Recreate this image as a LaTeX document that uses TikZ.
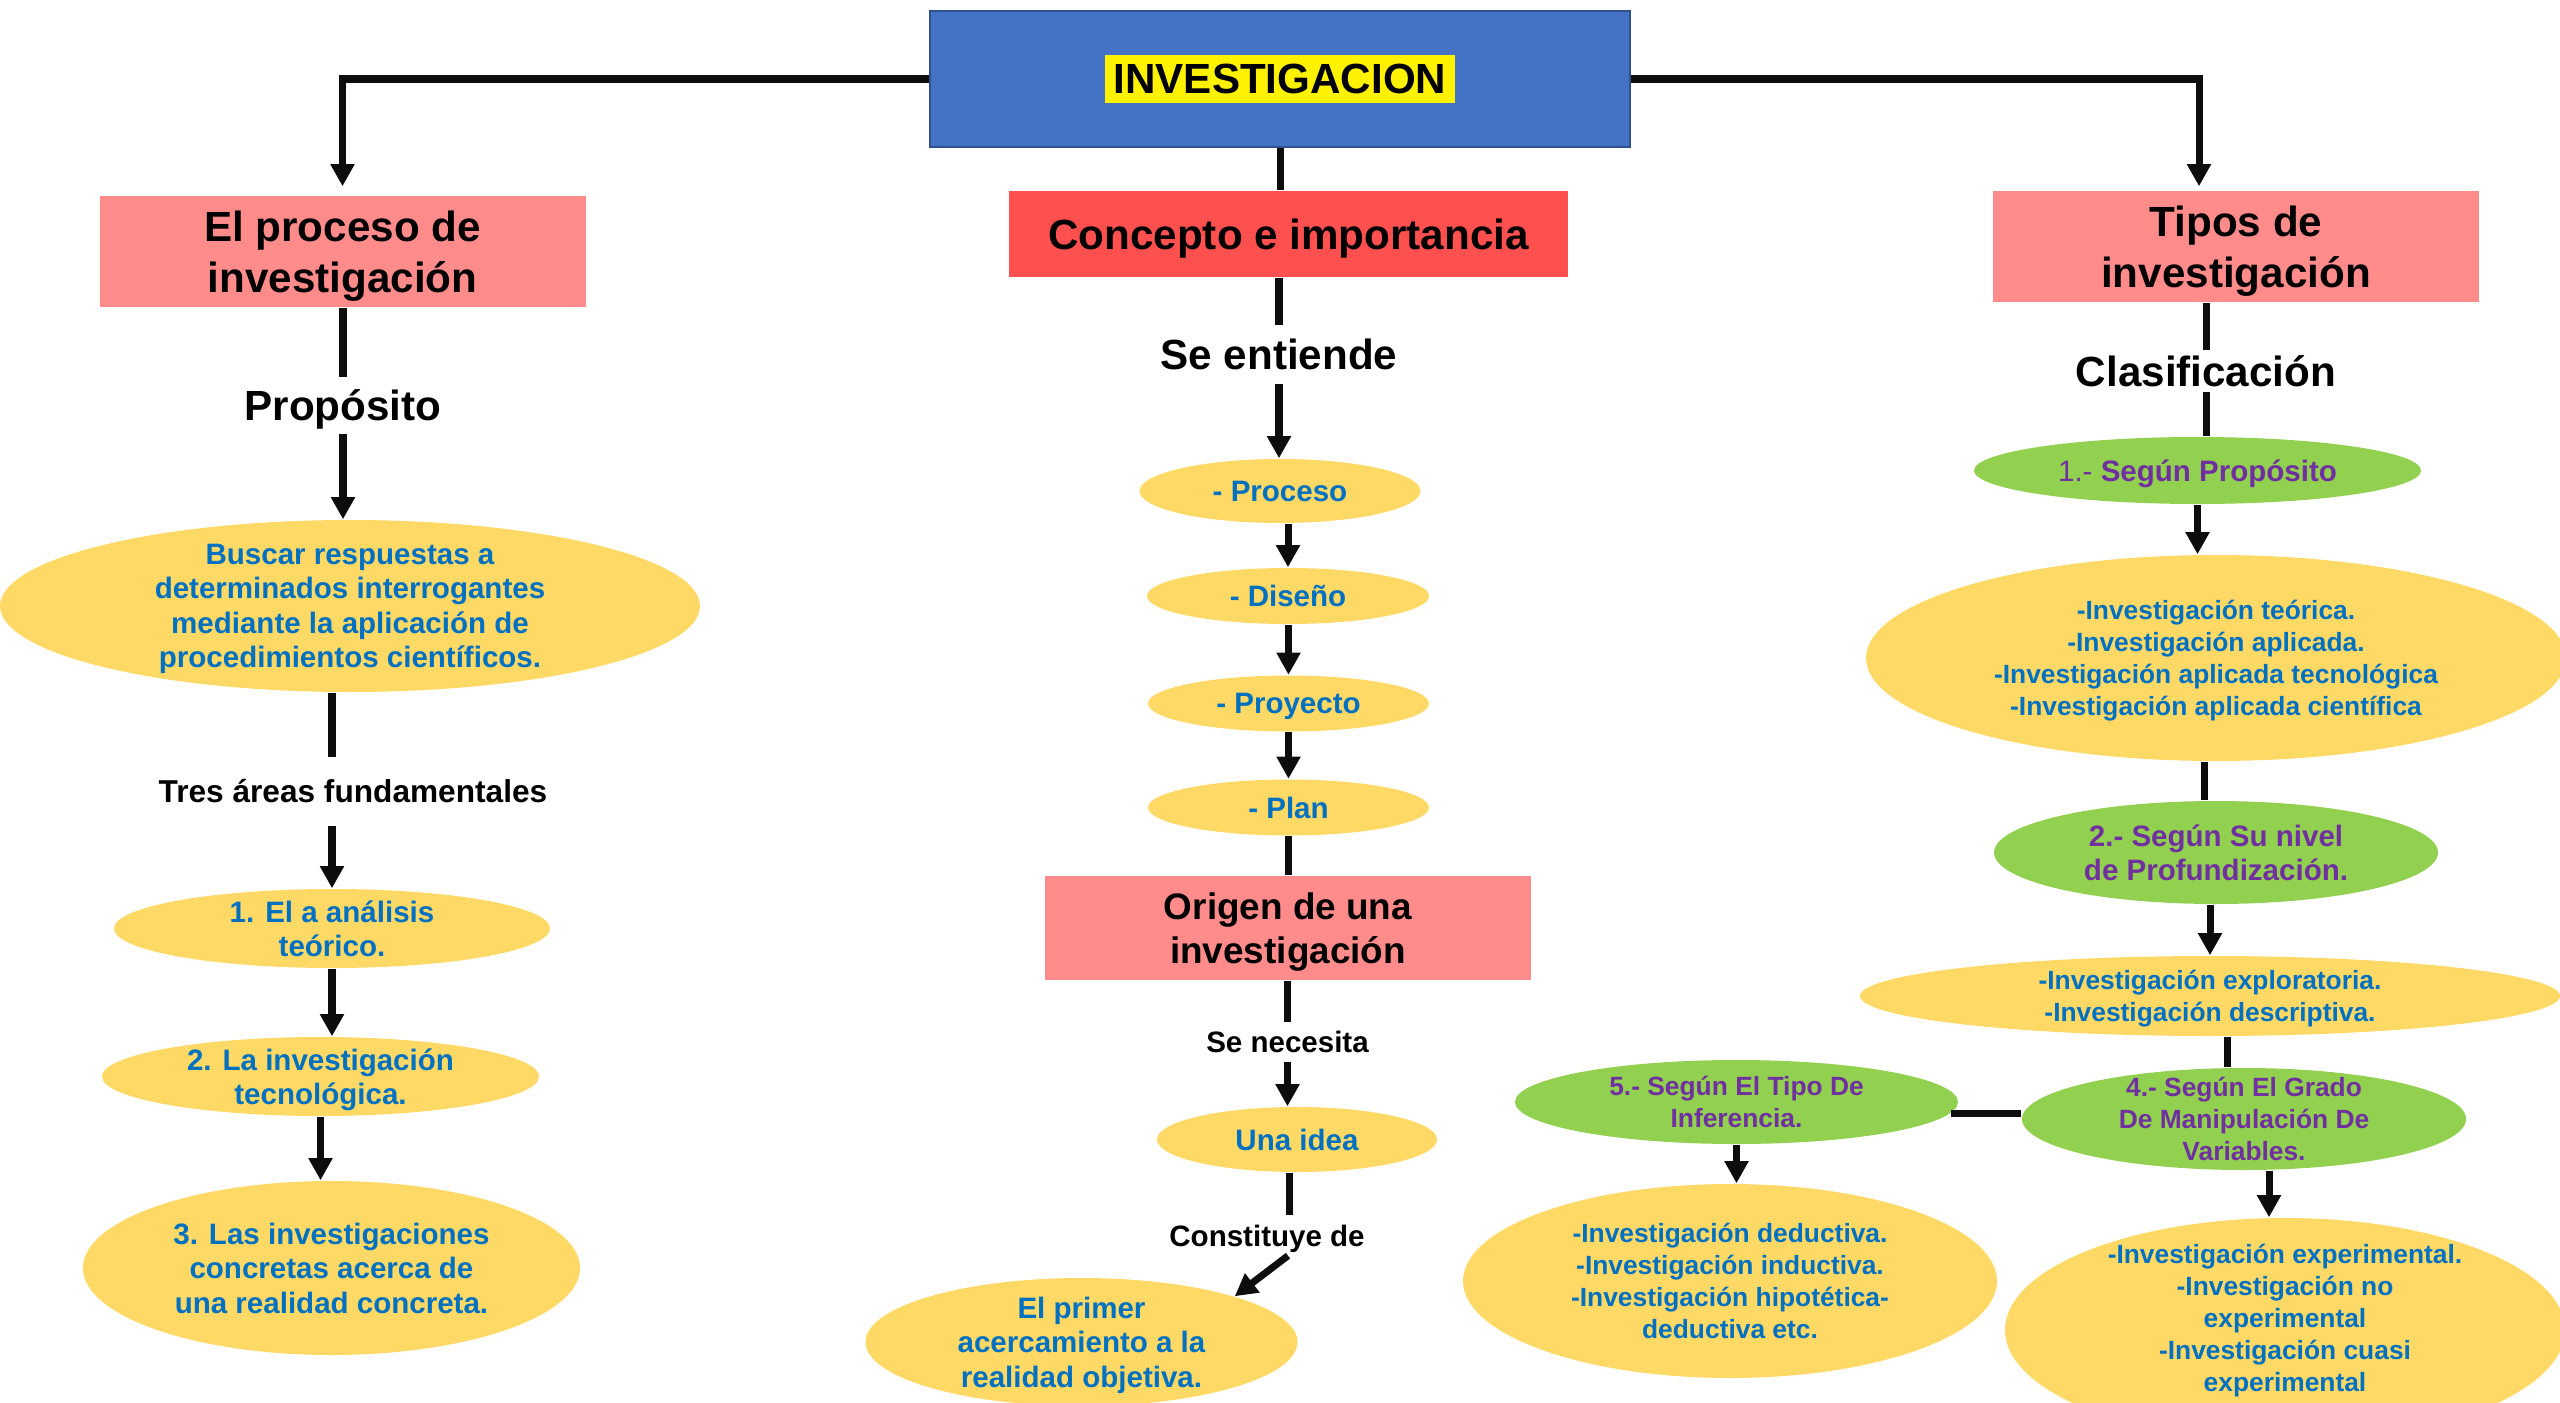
\documentclass[tikz,border=0pt]{standalone}
\usepackage{fontspec}
\setmainfont{Liberation Sans}
\usetikzlibrary{shapes.geometric,arrows.meta}

\definecolor{azulcaja}{HTML}{4472C4}
\definecolor{bordeazul}{HTML}{2F528F}
\definecolor{rosa}{HTML}{FF8B8B}
\definecolor{rojo}{HTML}{FF5050}
\definecolor{oro}{HTML}{FFD966}
\definecolor{verde}{HTML}{92D050}
\definecolor{morado}{HTML}{7030A0}
\definecolor{azultxt}{HTML}{0070C0}
\definecolor{negro}{HTML}{0D0D0D}
\setlength{\fboxsep}{2.5pt}

\begin{document}
\begin{tikzpicture}[
    linea/.style={line width=2pt, draw=negro},
    flecha/.style={linea, -{Triangle[length=6.3pt, width=6.5pt]}},
    caja/.style={rectangle, fill=rosa, inner sep=0pt, align=center, text depth=0pt,
        minimum width=4.86cm, minimum height=1.11cm,
        font=\fontsize{12}{14.4}\selectfont\bfseries},
    ovalo/.style={ellipse, fill=oro, inner sep=-0.6cm, align=center, text=azultxt, text depth=0pt,
        font=\fontsize{8.4}{9.8}\selectfont\bfseries},
    ovalo verde/.style={ovalo, fill=verde, text=morado},
    chico/.style={font=\fontsize{7.5}{9.1}\selectfont\bfseries},
    rotulo/.style={inner xsep=0pt, inner ysep=0.13cm, text height=0.30cm, text depth=0pt,
        font=\fontsize{12}{14}\selectfont\bfseries},
    rotulo chico/.style={rotulo, text height=0.21cm, font=\fontsize{8.4}{10}\selectfont\bfseries}
]
    \useasboundingbox (0,0) rectangle (25.6,-14.03);
    \clip (0,0) rectangle (25.6,-14.03);

    % Nodo central
    \node[rectangle, fill=azulcaja, draw=bordeazul, line width=0.6pt, minimum width=7cm,
        minimum height=1.36cm, font=\fontsize{12}{14}\selectfont\bfseries]
        (inv) at (12.80,-0.79) {\colorbox{yellow}{INVESTIGACION}};

    % Columna izquierda
    \node[caja] (proceso) at (3.425,-2.515) {El proceso de\\investigación};
    \node[rotulo] (prop) at (3.43,-4.057) {Propósito};
    \node[ovalo, minimum width=7cm, minimum height=1.72cm] (buscar) at (3.50,-6.06)
        {Buscar respuestas a\\determinados interrogantes\\mediante la aplicación de\\procedimientos científicos.};
    \node[rotulo, text height=0.227cm, inner ysep=0.22cm, font=\fontsize{9}{11}\selectfont\bfseries]
        (tres) at (3.53,-7.915) {Tres áreas fundamentales};
    \node[ovalo, minimum width=4.36cm, minimum height=0.79cm] (analisis) at (3.32,-9.285) {1. El a análisis\\teórico.};
    \node[ovalo, minimum width=4.37cm, minimum height=0.79cm] (tecno) at (3.205,-10.765) {2. La investigación\\tecnológica.};
    \node[ovalo, minimum width=4.97cm, minimum height=1.74cm] (concretas) at (3.315,-12.68)
        {3. Las investigaciones\\concretas acerca de\\una realidad concreta.};

    % Columna central
    \node[caja, fill=rojo, minimum width=5.59cm, minimum height=0.86cm] (concepto) at (12.885,-2.34) {Concepto e importancia};
    \node[rotulo, inner ysep=0.14cm] (entiende) at (12.79,-3.545) {Se entiende};
    \node[ovalo, minimum width=2.81cm, minimum height=0.64cm] (pproceso) at (12.80,-4.91) {- Proceso};
    \node[ovalo, minimum width=2.82cm, minimum height=0.56cm] (diseno) at (12.88,-5.96) {- Diseño};
    \node[ovalo, minimum width=2.81cm, minimum height=0.56cm] (proyecto) at (12.885,-7.035) {- Proyecto};
    \node[ovalo, minimum width=2.81cm, minimum height=0.56cm] (plan) at (12.885,-8.075) {- Plan};
    \node[caja, minimum height=1.04cm, font=\fontsize{10.5}{12.5}\selectfont\bfseries]
        (origen) at (12.88,-9.28) {Origen de una\\investigación};
    \node[rotulo chico, inner ysep=0.09cm] (necesita) at (12.875,-10.42) {Se necesita};
    \node[ovalo, minimum width=2.80cm, minimum height=0.65cm] (idea) at (12.97,-11.395) {Una idea};
    \node[rotulo chico, inner ysep=0.09cm] (constituye) at (12.67,-12.355) {Constituye de};
    \node[ovalo, minimum width=4.32cm, minimum height=1.28cm] (primer) at (10.815,-13.42)
        {El primer\\acercamiento a la\\realidad objetiva.};

    % Columna derecha
    \node[caja] (tipos) at (22.36,-2.465) {Tipos de\\investigación};
    \node[rotulo, inner ysep=0.05cm] (clasif) at (22.06,-3.71) {Clasificación};
    \node[ovalo verde, minimum width=4.47cm, minimum height=0.67cm] (seg1) at (21.975,-4.705)
        {{\mdseries 1.-} Según Propósito};
    \node[ovalo, chico, minimum width=7cm, minimum height=2.06cm] (teorica) at (22.16,-6.58)
        {-Investigación teórica.\\-Investigación aplicada.\\-Investigación aplicada tecnológica\\-Investigación aplicada científica};
    \node[ovalo verde, minimum width=4.44cm, minimum height=1.03cm] (seg2) at (22.16,-8.525)
        {2.- Según Su nivel\\de Profundización.};
    \node[ovalo, chico, minimum width=7cm, minimum height=0.80cm] (explor) at (22.10,-9.96)
        {-Investigación exploratoria.\\-Investigación descriptiva.};
    \node[ovalo verde, chico, minimum width=4.44cm, minimum height=1.02cm] (seg4) at (22.44,-11.19)
        {4.- Según El Grado\\De Manipulación De\\Variables.};
    \node[ovalo verde, chico, minimum width=4.43cm, minimum height=0.84cm] (seg5) at (17.365,-11.02)
        {5.- Según El Tipo De\\Inferencia.};
    \node[ovalo, chico, minimum width=5.34cm, minimum height=1.94cm] (deduc) at (17.30,-12.81)
        {-Investigación deductiva.\\-Investigación inductiva.\\-Investigación hipotética-\\deductiva etc.};
    \node[ovalo, chico, text depth=0.25cm, minimum width=5.6cm, minimum height=2.24cm] (exper) at (22.85,-13.30)
        {-Investigación experimental.\\-Investigación no\\experimental\\-Investigación cuasi\\experimental};

    % Ramas superiores
    \draw[flecha, shorten >=0.09cm] (inv.west) -| (proceso.north);
    \draw[flecha, shorten >=0.04cm] (inv.east) -| ([xshift=-0.37cm]tipos.north);
    \draw[linea] (inv.south) -- (inv.south |- concepto.north);

    % Conectores izquierda
    \draw[linea] (prop.north |- proceso.south) -- (prop.north);
    \draw[flecha] (prop.south) -- (prop.south |- buscar.north);
    \draw[linea] (analisis.north |- buscar.south) -- (analisis.north |- tres.north);
    \draw[flecha] (analisis.north |- tres.south) -- (analisis.north);
    \draw[flecha] (analisis.south) -- (analisis.south |- tecno.north);
    \draw[flecha] (tecno.south) -- (tecno.south |- concretas.north);

    % Conectores centro
    \draw[linea] (entiende.north |- concepto.south) -- (entiende.north);
    \draw[flecha] (entiende.south) -- (entiende.south |- pproceso.north);
    \draw[flecha] (diseno.north |- pproceso.south) -- (diseno.north);
    \draw[flecha] (proyecto.north |- diseno.south) -- (proyecto.north);
    \draw[flecha] (plan.north |- proyecto.south) -- (plan.north);
    \draw[linea] (plan.south) -- (plan.south |- origen.north);
    \draw[linea] (necesita.north |- origen.south) -- (necesita.north);
    \draw[flecha] (necesita.south) -- (necesita.south |- idea.north);
    \draw[linea] ([xshift=-0.08cm]idea.south) -- ([xshift=-0.08cm]idea.south |- constituye.north);
    \draw[flecha] ([xshift=0.21cm]constituye.south) -- (primer.north east);

    % Conectores derecha
    \draw[linea] (clasif.north |- tipos.south) -- (clasif.north);
    \draw[linea] (clasif.south) -- (clasif.south |- seg1.north);
    \draw[flecha] (seg1.south) -- (seg1.south |- teorica.north);
    \draw[linea] ([xshift=-0.12cm]teorica.south) -- ([xshift=-0.12cm]teorica.south |- seg2.north);
    \draw[flecha] (explor.north |- seg2.south) -- (explor.north);
    \draw[linea] ([xshift=-0.17cm]seg4.north |- explor.south) -- ([xshift=-0.17cm]seg4.north);
    \draw[linea] (seg5.-3) -- (seg5.-3 -| seg4.west);
    \draw[flecha] (seg5.south) -- (seg5.south |- deduc.north);
    \draw[flecha] ([xshift=0.25cm]seg4.south) -- ([xshift=0.25cm]seg4.south |- exper.north);

\end{tikzpicture}
\end{document}
